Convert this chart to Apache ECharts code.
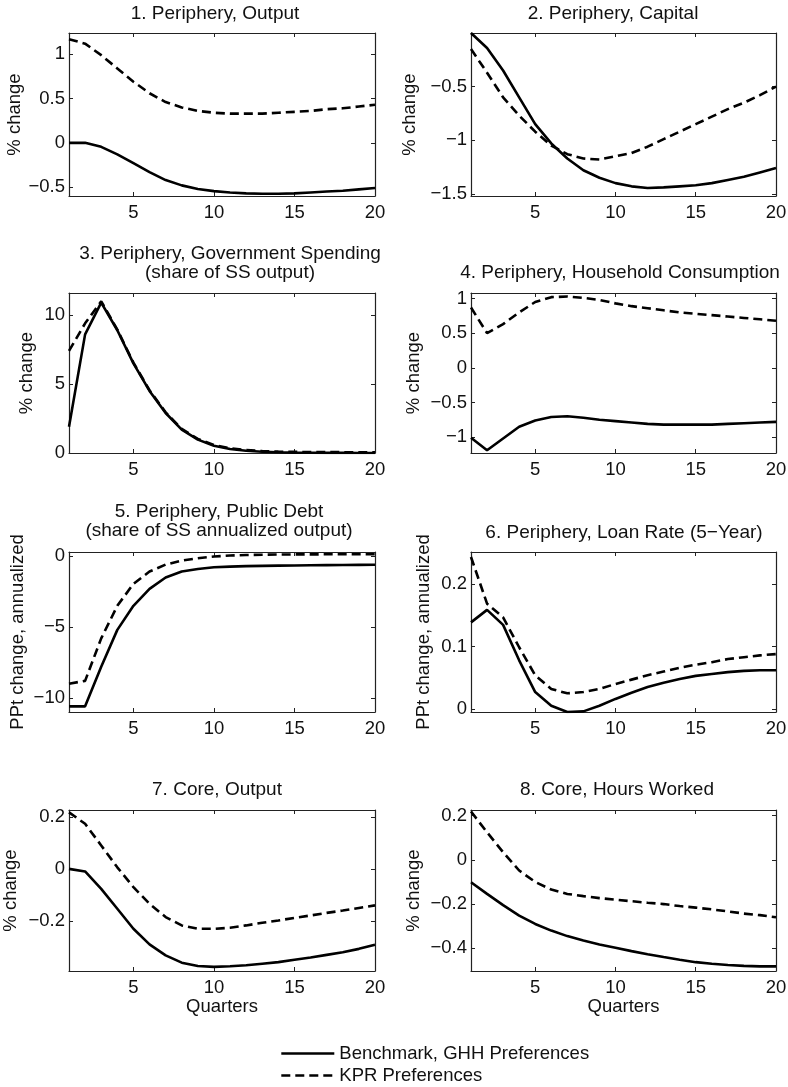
<!DOCTYPE html>
<html>
<head>
<meta charset="utf-8">
<script src="https://cdn.jsdelivr.net/npm/echarts@6/dist/echarts.min.js"></script>
<style>
html,body{margin:0;padding:0;background:#fff;}
#chart{width:788px;height:1087px;}
</style>
</head>
<body>
<div id="chart"></div>
<script>
// ---------------- DATA ----------------
const quarters = [1,2,3,4,5,6,7,8,9,10,11,12,13,14,15,16,17,18,19,20];
const xTickLabels = [5,10,15,20];

const seriesNames = ['Benchmark, GHH Preferences', 'KPR Preferences'];

const titles = [
  '1. Periphery, Output',
  '2. Periphery, Capital',
  '3. Periphery, Government Spending\n(share of SS output)',
  '4. Periphery, Household Consumption',
  '5. Periphery, Public Debt\n(share of SS annualized output)',
  '6. Periphery, Loan Rate (5\u2212Year)',
  '7. Core, Output',
  '8. Core, Hours Worked'
];
const yNames = ['% change','% change','% change','% change',
  'PPt change, annualized','PPt change, annualized','% change','% change'];

// 1. Periphery, Output
const p1Bench = [0, 0, -0.045, -0.13, -0.23, -0.33, -0.42, -0.48, -0.52, -0.545, -0.56, -0.57, -0.575, -0.575, -0.57, -0.56, -0.55, -0.54, -0.525, -0.51];
const p1KPR   = [1.17, 1.12, 0.99, 0.84, 0.69, 0.56, 0.46, 0.40, 0.36, 0.34, 0.33, 0.33, 0.33, 0.34, 0.35, 0.36, 0.38, 0.39, 0.41, 0.43];
const p1Ticks = [-0.5, 0, 0.5, 1];
// 2. Periphery, Capital
const p2Bench = [0, -0.14, -0.35, -0.60, -0.85, -1.03, -1.17, -1.28, -1.35, -1.40, -1.43, -1.445, -1.44, -1.43, -1.42, -1.40, -1.37, -1.34, -1.30, -1.26];
const p2KPR   = [-0.15, -0.37, -0.60, -0.77, -0.92, -1.05, -1.13, -1.17, -1.18, -1.15, -1.12, -1.06, -0.99, -0.92, -0.85, -0.78, -0.71, -0.65, -0.58, -0.50];
const p2Ticks = [-1.5, -1, -0.5];
// 3. Periphery, Government Spending
const p3Bench = [1.9, 8.6, 10.9, 8.9, 6.5, 4.5, 2.9, 1.7, 0.97, 0.53, 0.29, 0.16, 0.09, 0.05, 0.03, 0.02, 0.01, 0.01, 0.0, 0.0];
const p3KPR   = [7.4, 9.4, 11.0, 8.95, 6.55, 4.55, 2.95, 1.75, 1.02, 0.58, 0.34, 0.21, 0.14, 0.10, 0.08, 0.07, 0.06, 0.06, 0.05, 0.05];
const p3Ticks = [0, 5, 10];
// 4. Periphery, Household Consumption
const p4Bench = [-1.01, -1.19, -1.02, -0.85, -0.76, -0.71, -0.70, -0.72, -0.75, -0.77, -0.79, -0.81, -0.82, -0.82, -0.82, -0.82, -0.81, -0.80, -0.79, -0.78];
const p4KPR   = [0.87, 0.50, 0.63, 0.80, 0.95, 1.02, 1.03, 1.01, 0.98, 0.93, 0.89, 0.86, 0.83, 0.80, 0.78, 0.76, 0.74, 0.72, 0.70, 0.68];
const p4Ticks = [-1, -0.5, 0, 0.5, 1];
// 5. Periphery, Public Debt
const p5Bench = [-10.6, -10.6, -7.8, -5.2, -3.5, -2.3, -1.5, -1.08, -0.9, -0.78, -0.73, -0.70, -0.68, -0.66, -0.65, -0.64, -0.63, -0.62, -0.61, -0.60];
const p5KPR   = [-9.0, -8.8, -5.8, -3.5, -1.95, -1.08, -0.59, -0.30, -0.14, -0.02, 0.05, 0.09, 0.11, 0.12, 0.13, 0.13, 0.14, 0.14, 0.14, 0.14];
const p5Ticks = [-10, -5, 0];
// 6. Periphery, Loan Rate
const p6Bench = [0.139, 0.159, 0.135, 0.078, 0.027, 0.005, -0.005, -0.004, 0.005, 0.016, 0.026, 0.035, 0.042, 0.048, 0.053, 0.056, 0.059, 0.061, 0.062, 0.062];
const p6KPR   = [0.244, 0.169, 0.147, 0.099, 0.054, 0.032, 0.025, 0.027, 0.032, 0.040, 0.047, 0.054, 0.060, 0.066, 0.071, 0.075, 0.080, 0.083, 0.086, 0.088];
const p6Ticks = [0, 0.1, 0.2];
// 7. Core, Output
const p7Bench = [0, -0.01, -0.077, -0.153, -0.23, -0.29, -0.332, -0.36, -0.373, -0.376, -0.374, -0.37, -0.364, -0.358, -0.349, -0.34, -0.33, -0.32, -0.307, -0.291];
const p7KPR   = [0.217, 0.173, 0.09, 0.006, -0.07, -0.134, -0.185, -0.217, -0.23, -0.23, -0.226, -0.217, -0.207, -0.198, -0.188, -0.179, -0.169, -0.16, -0.15, -0.14];
const p7Ticks = [-0.2, 0, 0.2];
// 8. Core, Hours Worked
const p8Bench = [-0.101, -0.154, -0.205, -0.252, -0.29, -0.32, -0.345, -0.365, -0.383, -0.398, -0.413, -0.427, -0.44, -0.452, -0.463, -0.47, -0.476, -0.48, -0.482, -0.482];
const p8KPR   = [0.219, 0.125, 0.035, -0.048, -0.10, -0.134, -0.154, -0.164, -0.173, -0.18, -0.187, -0.194, -0.20, -0.209, -0.216, -0.224, -0.233, -0.243, -0.25, -0.26];
const p8Ticks = [-0.4, -0.2, 0, 0.2];

// y-axis ranges
const yMins = [-0.6, -1.52, 0, -1.23, -11, -0.005, -0.392, -0.503];
const yMaxs = [1.24, 0, 11.6, 1.08, 0.3, 0.252, 0.226, 0.226];

// ---------------- LAYOUT / STYLE ----------------
const benches = [p1Bench,p2Bench,p3Bench,p4Bench,p5Bench,p6Bench,p7Bench,p8Bench];
const kprs = [p1KPR,p2KPR,p3KPR,p4KPR,p5KPR,p6KPR,p7KPR,p8KPR];
const yTicks = [p1Ticks,p2Ticks,p3Ticks,p4Ticks,p5Ticks,p6Ticks,p7Ticks,p8Ticks];

const layout = [
  {l:69,  t:33,  w:306, h:163, titleX:215, titleTop:4.5, nameGap:45},
  {l:471, t:33,  w:305, h:163, titleX:613, titleTop:4.5, nameGap:52},
  {l:69,  t:293, w:306, h:160, titleX:230, titleTop:244, nameGap:33},
  {l:471, t:293, w:305, h:160, titleX:620, titleTop:263.5, nameGap:48},
  {l:69,  t:552, w:306, h:160, titleX:219, titleTop:502, nameGap:42},
  {l:471, t:552, w:305, h:160, titleX:624, titleTop:523.5, nameGap:38},
  {l:69,  t:810, w:306, h:161, titleX:217, titleTop:780.5, nameGap:49},
  {l:471, t:810, w:305, h:161, titleX:617, titleTop:780.5, nameGap:48}
];

const FONT = 'Liberation Sans, Arial, Helvetica, sans-serif';
const FS = 18.5;
const TFS = 19;
const TXT = '#111';
const AX = '#222';
const fmt = v => String(v).replace('-', '\u2212');

const grids = [], xAxes = [], yAxes = [], series = [], titleArr = [];
layout.forEach((g, i) => {
  grids.push({left:g.l, top:g.t, width:g.w, height:g.h, containLabel:false, outerBoundsMode:'none'});
  titleArr.push({
    text: titles[i], left: g.titleX, top: g.titleTop, textAlign:'center', padding:0,
    textStyle:{fontFamily:FONT, fontSize:TFS, fontWeight:'normal', color:TXT, lineHeight:19}
  });
  const axisLine = {show:true, onZero:false, lineStyle:{color:AX, width:1.2}};
  const tick = {show:true, inside:true, length:4, customValues:xTickLabels, lineStyle:{color:AX, width:1}};
  xAxes.push({
    type:'value', gridIndex:i, position:'bottom', min:1, max:20,
    axisLine, axisTick:tick, splitLine:{show:false},
    axisLabel:{show:true, customValues:xTickLabels, margin:7, fontFamily:FONT, fontSize:FS, color:TXT, formatter:fmt},
    name: i >= 6 ? 'Quarters' : '', nameLocation:'middle', nameGap:25,
    nameTextStyle:{fontFamily:FONT, fontSize:FS, color:TXT}
  });
  xAxes.push({
    type:'value', gridIndex:i, position:'top', min:1, max:20,
    axisLine, axisTick:tick, splitLine:{show:false}, axisLabel:{show:false}
  });
  const ytick = {show:true, inside:true, length:4, customValues:yTicks[i], lineStyle:{color:AX, width:1}};
  yAxes.push({
    type:'value', gridIndex:i, position:'left', min:yMins[i], max:yMaxs[i],
    axisLine, axisTick:ytick, splitLine:{show:false},
    axisLabel:{show:true, customValues:yTicks[i], margin:4, fontFamily:FONT, fontSize:FS, color:TXT, formatter:fmt},
    name: yNames[i], nameLocation:'middle', nameGap:g.nameGap,
    nameTextStyle:{fontFamily:FONT, fontSize:FS, color:TXT}
  });
  yAxes.push({
    type:'value', gridIndex:i, position:'right', min:yMins[i], max:yMaxs[i],
    axisLine, axisTick:ytick, splitLine:{show:false}, axisLabel:{show:false}
  });
  series.push({
    name: seriesNames[0], type:'line', xAxisIndex:2*i, yAxisIndex:2*i,
    data: quarters.map((q, j) => [q, benches[i][j]]),
    symbol:'none', showSymbol:false, smooth:false,
    lineStyle:{color:'#000', width:2.6, type:'solid'}, itemStyle:{color:'#000'}
  });
  series.push({
    name: seriesNames[1], type:'line', xAxisIndex:2*i, yAxisIndex:2*i,
    data: quarters.map((q, j) => [q, kprs[i][j]]),
    symbol:'none', showSymbol:false, smooth:false,
    lineStyle:{color:'#000', width:2.6, type:[9,5]}, itemStyle:{color:'#000'}
  });
});

const legendBase = {
  orient:'vertical', left:280, padding:0,
  itemWidth:53, itemHeight:14, itemGap:0,
  selectedMode:false,
  itemStyle:{opacity:0, borderWidth:0},
  lineStyle:{color:'#000', width:2.6},
  textStyle:{fontFamily:FONT, fontSize:FS, color:TXT}
};

const option = {
  animation:false,
  backgroundColor:'#fff',
  textStyle:{fontFamily:FONT},
  title: titleArr,
  grid: grids,
  xAxis: xAxes,
  yAxis: yAxes,
  series: series,
  legend: [
    Object.assign({}, legendBase, {data:[seriesNames[0]], top:1044}),
    Object.assign({}, legendBase, {data:[seriesNames[1]], top:1066})
  ]
};

const chart = echarts.init(document.getElementById('chart'), null, {renderer:'canvas'});
chart.setOption(option);
</script>
</body>
</html>
